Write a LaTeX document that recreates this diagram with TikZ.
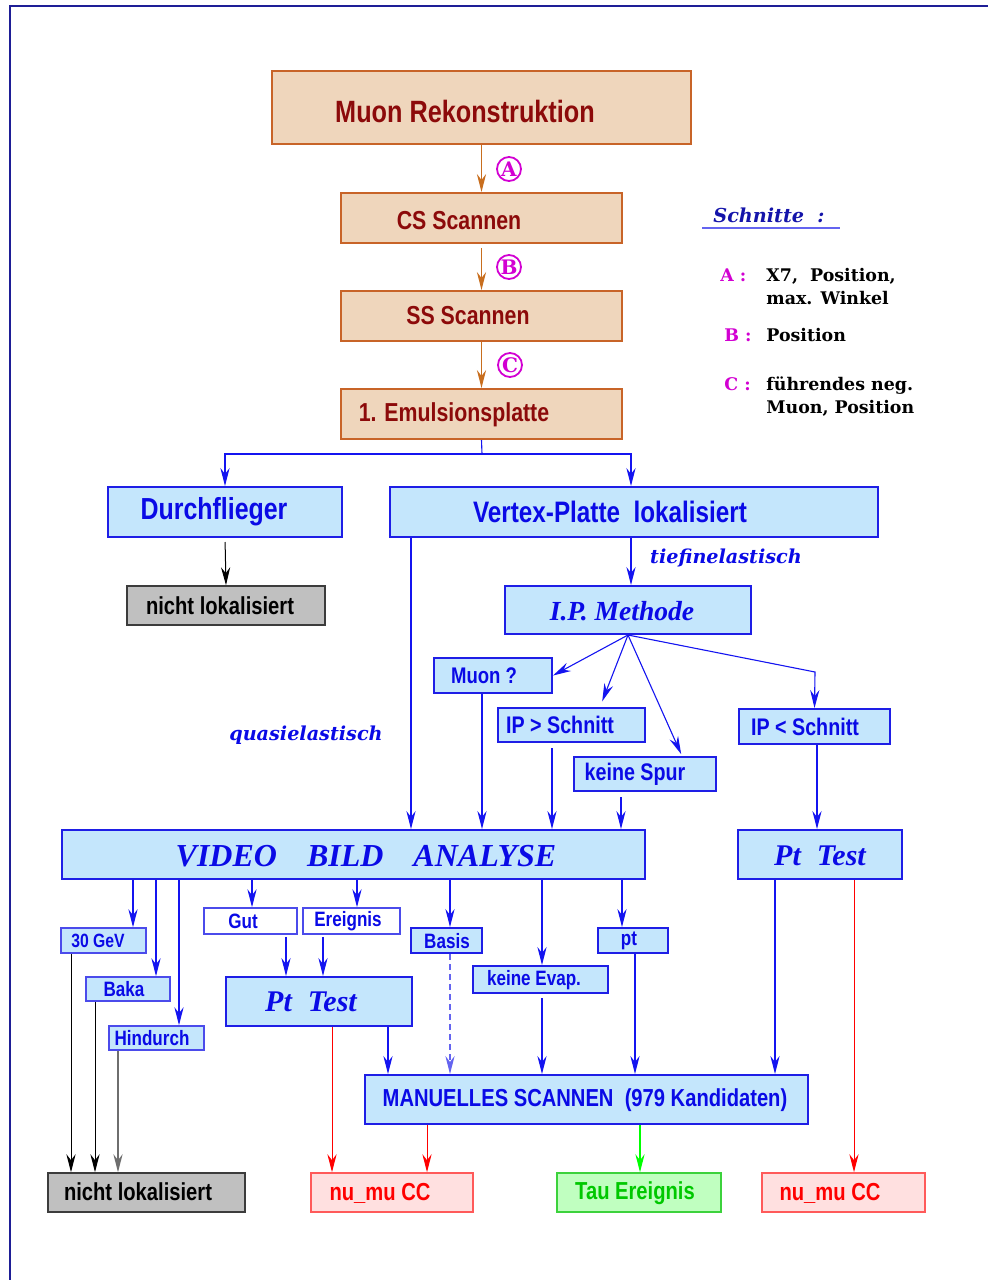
\documentclass[tikz,border=0pt]{standalone}
\usepackage{fontspec}
\usetikzlibrary{fit,arrows.meta}
\newfontfamily\nsans[FakeStretch=0.82]{Liberation Sans}
\newfontfamily\tim{Liberation Serif}
\newfontfamily\schl{DejaVu Serif}
\newcommand\fsz[1]{\fontsize{#1}{#1}\selectfont}
\definecolor{pfill}{RGB}{239,214,188}
\definecolor{pborder}{RGB}{200,100,40}
\definecolor{ptext}{RGB}{140,10,10}
\definecolor{oline}{RGB}{200,110,30}
\definecolor{bfill}{RGB}{196,230,252}
\definecolor{bborder}{RGB}{30,30,230}
\definecolor{btext}{RGB}{10,10,230}
\definecolor{bline}{RGB}{20,20,240}
\definecolor{lblue}{RGB}{100,100,240}
\definecolor{gfill}{RGB}{192,192,192}
\definecolor{gborder}{RGB}{60,60,60}
\definecolor{rfill}{RGB}{255,224,224}
\definecolor{rborder}{RGB}{255,90,90}
\definecolor{rtext}{RGB}{255,0,0}
\definecolor{tfill}{RGB}{192,255,192}
\definecolor{tborder}{RGB}{60,210,60}
\definecolor{ttext}{RGB}{0,200,0}
\definecolor{tline}{RGB}{0,255,0}
\definecolor{mag}{RGB}{210,0,210}
\definecolor{navy}{RGB}{20,20,170}
\definecolor{framec}{RGB}{30,30,150}
\definecolor{grayline}{RGB}{110,110,110}
\tikzset{
  pbox/.style={draw=pborder, fill=pfill, line width=1pt, inner sep=0pt},
  bbox/.style={draw=bborder, fill=bfill, line width=1pt, inner sep=0pt},
  sbox/.style={draw=bborder!80!white, fill=bfill, line width=0.8pt, inner sep=0pt},
  wbox/.style={draw=bborder!80!white, fill=white, line width=0.8pt, inner sep=0pt},
  gbox/.style={draw=gborder, fill=gfill, line width=0.8pt, inner sep=0pt},
  rbox/.style={draw=rborder, fill=rfill, line width=0.8pt, inner sep=0pt},
  tbox/.style={draw=tborder, fill=tfill, line width=0.8pt, inner sep=0pt},
  txt/.style={inner sep=0pt},
  ptxt/.style={txt, text=ptext, font=\nsans\bfseries\fsz{13}},
  btxt/.style={txt, text=btext, font=\nsans\bfseries\fsz{12}},
  stxt/.style={txt, text=btext, font=\nsans\bfseries\fsz{10.4}},
  itxt/.style={txt, text=btext, font=\tim\bfseries\itshape\fsz{15.5}},
  qtxt/.style={txt, text=btext, font=\schl\bfseries\itshape\fsz{9.6}},
  legt/.style={txt, anchor=base west, font=\schl\bfseries\fsz{8.7}},
  legl/.style={legt, text=mag},
  circ/.style={circle, draw=mag, line width=0.9pt, minimum size=12pt, inner sep=0pt, text=mag, font=\schl\bfseries\fsz{10}},
  tip/.style={-{Stealth[length=9pt,width=4.6pt,inset=3pt]}},
  oarr/.style={tip, draw=oline, line width=0.6pt},
  barr/.style={tip, draw=bline, line width=0.55pt},
  karr/.style={tip, draw=black, line width=0.5pt},
  garr/.style={tip, draw=grayline, line width=0.7pt},
  rarr/.style={tip, draw=rtext, line width=0.5pt},
  tarr/.style={tip, draw=tline, line width=0.55pt},
}
\begin{document}
\begin{tikzpicture}[x=0.5pt,y=-0.5pt]
\useasboundingbox (0,0) rectangle (988,1280);
\draw[framec, line width=1.2pt] (10,1280) -- (10,6) -- (988,6);

% column coordinates
\foreach \c in {71,95,118,133,156,179,252,286,323,332,357,388,411,427,450,482,542,552,600,621,622,631,635,640,682,775,817,854}
  {\coordinate (c\c) at (\c,0);}

% top boxes
\node[pbox, fit={(272,71)(691,144)}] (muon) {};
\node[pbox, fit={(341,193)(622,243)}] (cs) {};
\node[pbox, fit={(341,291)(622,341)}] (ss) {};
\node[pbox, fit={(341,389)(622,439)}] (emul) {};
\node[ptxt, font=\nsans\bfseries\fsz{15.4}] (muonT) at (465,111) {Muon Rekonstruktion};
\node[ptxt] (csT) at (459,221) {CS Scannen};
\node[ptxt] (ssT) at (468,316) {SS Scannen};
\node[ptxt] (emT) at (454,415) {1. Emulsionsplatte};
\draw[oarr] (muon.south) -- (cs.north);
\draw[oarr, shorten <=2pt] (cs.south) -- (ss.north);
\draw[oarr] (ss.south) -- (emul.north);
\node[circ] (cA) at (509,169) {A};
\node[circ] (cB) at (509,267) {B};
\node[circ] (cC) at (510,365) {C};

% legend
\node[txt, anchor=base west, text=navy, font=\schl\bfseries\itshape\fsz{9.6}] (schn) at (713,222) {Schnitte\ \ :};
\draw[lblue, line width=1pt] (702,228) -- (840,228);
\node[legl] (lA) at (720,281) {A :};
\node[legt] (lA1) at (766,281) {X7,\ \ Position,};
\node[legt] (lA2) at (766,304) {max. Winkel};
\node[legl] (lB) at (724,341) {B :};
\node[legt] (lB1) at (766,341) {Position};
\node[legl] (lC) at (724,390) {C :};
\node[legt] (lC1) at (766,390) {führendes neg.};
\node[legt] (lC2) at (766,413) {Muon, Position};

% second level
\node[bbox, fit={(108,487)(342,537)}] (durch) {};
\node[bbox, fit={(390,487)(878,537)}] (vertex) {};
\node[btxt, font=\nsans\bfseries\fsz{15.2}] (durchT) at (214,512) {Durchflieger};
\node[btxt, font=\nsans\bfseries\fsz{14.8}] (vertexT) at (610,512) {Vertex-Platte\ \ lokalisiert};
\coordinate (split) at (482,454);
\draw[bline, line width=0.55pt] (emul.south) -- (split);
\draw[barr] (split) -| (durch.north);
\draw[barr] (split) -| (vertex.north -| c631);

\node[gbox, fit={(127,586)(325,625)}] (nl1) {};
\node[txt, font=\nsans\bfseries\fsz{12.3}] (nl1T) at (220,606) {nicht lokalisiert};
\draw[karr, shorten <=2pt] (durch.south) -- (nl1.north);

\node[qtxt] (tief) at (726,558) {tiefinelastisch};
\node[bbox, fit={(505,586)(751,634)}] (ipm) {};
\node[itxt, font=\tim\bfseries\itshape\fsz{13.8}] (ipmT) at (622,611) {I.P. Methode};
\draw[barr] (vertex.south -| c631) -- (ipm.north -| c631);

\node[bbox, fit={(434,658)(552,693)}] (muq) {};
\node[btxt, font=\nsans\bfseries\fsz{11.3}] (muqT) at (484,676) {Muon ?};
\node[bbox, fit={(498,708)(645,742)}] (ipgt) {};
\node[btxt] (ipgtT) at (560,725) {IP > Schnitt};
\node[bbox, fit={(574,757)(716,791)}] (spur) {};
\node[btxt] (spurT) at (635,774) {keine Spur};
\node[bbox, fit={(739,709)(890,744)}] (iplt) {};
\node[btxt] (ipltT) at (805,727) {IP < Schnitt};
\coordinate (bend) at (815,672);
\draw[barr] (ipm.south) -- (muq.east);
\draw[barr, shorten >=3pt] (ipm.south) -- (ipgt.north -| c600);
\draw[barr, shorten >=1pt] (ipm.south) -- (spur.north -| c682);
\draw[barr] (ipm.south) -- (bend) -- (iplt.north);

\node[qtxt] (quasi) at (306,735) {quasielastisch};

% video level
\node[bbox, fit={(62,830)(645,879)}] (video) {};
\node[itxt, font=\tim\bfseries\itshape\fsz{16}] (videoT) at (366,856) {VIDEO\hspace{15pt}BILD\hspace{15pt}ANALYSE};
\node[bbox, fit={(738,830)(902,879)}] (ptR) {};
\node[itxt, font=\tim\bfseries\itshape\fsz{15}] (ptRT) at (820,856) {Pt\hspace{8pt}Test};
\draw[barr] (vertex.south -| c411) -- (video.north -| c411);
\draw[barr] (muq.south -| c482) -- (video.north -| c482);
\draw[barr, shorten <=2.5pt] (ipgt.south -| c552) -- (video.north -| c552);
\draw[barr, shorten <=2.5pt] (spur.south -| c621) -- (video.north -| c621);
\draw[barr] (iplt.south -| c817) -- (ptR.north -| c817);

% small boxes
\node[sbox, fit={(61,928)(146,953)}] (gev) {};
\node[stxt, font=\nsans\bfseries\fsz{9.6}] (gevT) at (98,941) {30 GeV};
\node[sbox, fit={(86,977)(170,1001)}] (baka) {};
\node[stxt] (bakaT) at (124,989) {Baka};
\node[sbox, fit={(109,1026)(204,1050)}] (hind) {};
\node[stxt] (hindT) at (152,1038) {Hindurch};
\node[wbox, fit={(204,908)(297,934)}] (gut) {};
\node[stxt] (gutT) at (243,921) {Gut};
\node[wbox, fit={(303,908)(400,934)}] (ereig) {};
\node[stxt] (ereigT) at (348,921) {Ereignis};
\node[bbox, fit={(411,928)(482,953)}] (basis) {};
\node[stxt] (basisT) at (447,941) {Basis};
\node[bbox, fit={(473,966)(608,993)}] (evap) {};
\node[stxt] (evapT) at (534,980) {keine Evap.};
\node[bbox, fit={(598,928)(668,953)}] (ptbox) {};
\node[stxt] (ptboxT) at (629,941) {pt};
\draw[barr] (video.south -| c133) -- (gev.north -| c133);
\draw[barr] (video.south -| c156) -- (baka.north -| c156);
\draw[barr] (video.south -| c179) -- (hind.north -| c179);
\draw[barr] (video.south -| c252) -- (gut.north -| c252);
\draw[barr] (video.south -| c357) -- (ereig.north -| c357);
\draw[barr] (video.south -| c450) -- (basis.north -| c450);
\draw[barr] (video.south -| c542) -- (evap.north -| c542);
\draw[barr] (video.south -| c622) -- (ptbox.north -| c622);

\node[bbox, fit={(226,977)(412,1026)}] (ptM) {};
\node[itxt, font=\tim\bfseries\itshape\fsz{15}] (ptMT) at (311,1002) {Pt\hspace{8pt}Test};
\draw[barr, shorten <=1pt] (gut.south -| c286) -- (ptM.north -| c286);
\draw[barr, shorten <=1pt] (ereig.south -| c323) -- (ptM.north -| c323);

% manual scanning
\node[bbox, fit={(365,1075)(808,1124)}] (manu) {};
\node[txt, text=btext, font=\nsans\bfseries\fsz{12.3}] (manuT) at (585,1100) {MANUELLES SCANNEN\ \ (979 Kandidaten)};
\draw[barr] (ptM.south -| c388) -- (manu.north -| c388);
\draw[barr, draw=lblue, dash pattern=on 3pt off 2pt] (basis.south -| c450) -- (manu.north -| c450);
\draw[barr, shorten <=2pt] (evap.south -| c542) -- (manu.north -| c542);
\draw[barr] (ptbox.south -| c635) -- (manu.north -| c635);
\draw[barr] (ptR.south -| c775) -- (manu.north -| c775);

% bottom results
\node[gbox, fit={(48,1173)(245,1212)}] (nl2) {};
\node[txt, font=\nsans\bfseries\fsz{12.3}] (nl2T) at (138,1192) {nicht lokalisiert};
\node[rbox, fit={(311,1173)(473,1212)}] (nu1) {};
\node[txt, text=rtext, font=\nsans\bfseries\fsz{12.3}] (nu1T) at (380,1193) {nu\_mu CC};
\node[tbox, fit={(557,1173)(721,1212)}] (tau) {};
\node[txt, text=ttext, font=\nsans\bfseries\fsz{12.3}] (tauT) at (635,1193) {Tau Ereignis};
\node[rbox, fit={(762,1173)(925,1212)}] (nu2) {};
\node[txt, text=rtext, font=\nsans\bfseries\fsz{12.3}] (nu2T) at (830,1193) {nu\_mu CC};

\draw[karr] (gev.south -| c71) -- (nl2.north -| c71);
\draw[karr] (baka.south -| c95) -- (nl2.north -| c95);
\draw[garr] (hind.south -| c118) -- (nl2.north -| c118);
\draw[rarr] (ptM.south -| c332) -- (nu1.north -| c332);
\draw[rarr] (manu.south -| c427) -- (nu1.north -| c427);
\draw[tarr] (manu.south -| c640) -- (tau.north -| c640);
\draw[rarr] (ptR.south -| c854) -- (nu2.north -| c854);
\end{tikzpicture}
\end{document}
